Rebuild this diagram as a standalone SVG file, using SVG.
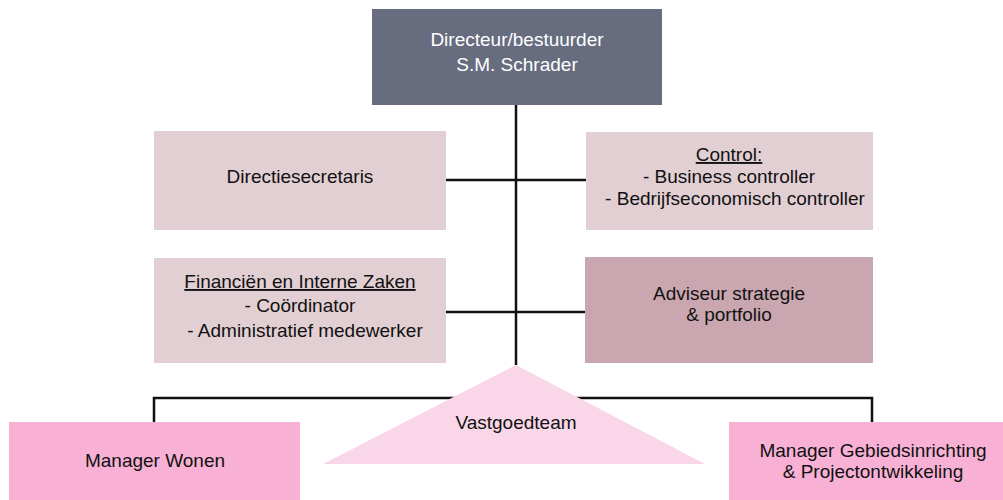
<svg xmlns="http://www.w3.org/2000/svg" width="1003" height="500" viewBox="0 0 1003 500">
<style>
text{font-family:"Liberation Sans",Arial,sans-serif;font-size:19px;fill:#111;text-anchor:middle}
.w{fill:#fff}
.u{text-decoration:underline}
.c{fill:none;stroke:#111;stroke-width:2.5}
.lt{fill:#e2cfd3}
.dk{fill:#caa7b0}
.pk{fill:#f8b1d5}
</style>
<rect width="1003" height="500" fill="#fff"/>
<g id="connectors">
<path class="c" d="M516 105V365"/>
<path class="c" d="M446 180H586"/>
<path class="c" d="M446 312H585"/>
<path class="c" d="M154 422V398H872V422"/>
</g>
<g id="directeur">
<rect x="372" y="9" width="290" height="96" fill="#676c7f"/>
<text class="w" x="517" y="46">Directeur/bestuurder</text>
<text class="w" x="517" y="71">S.M. Schrader</text>
</g>
<g id="directiesecretaris">
<rect class="lt" x="154" y="131" width="292" height="99"/>
<text x="300" y="183">Directiesecretaris</text>
</g>
<g id="control">
<rect class="lt" x="586" y="132" width="287" height="98"/>
<text x="729" y="161" class="u">Control:</text>
<text x="729" y="183">- Business controller</text>
<text x="735" y="205" font-size="18.5">- Bedrijfseconomisch controller</text>
</g>
<g id="financien">
<rect class="lt" x="154" y="258" width="292" height="105"/>
<text x="300" y="288" class="u">Financiën en Interne Zaken</text>
<text x="300" y="312">- Coördinator</text>
<text x="305" y="337">- Administratief medewerker</text>
</g>
<g id="adviseur">
<rect class="dk" x="585" y="257" width="288" height="106"/>
<text x="729" y="300">Adviseur strategie</text>
<text x="729" y="321">&amp; portfolio</text>
</g>
<g id="vastgoedteam">
<polygon points="516,365 705,464 323,464" fill="#fad7e8"/>
<text x="516" y="429">Vastgoedteam</text>
</g>
<g id="manager-wonen">
<rect class="pk" x="9" y="422" width="291" height="78"/>
<text x="155" y="467">Manager Wonen</text>
</g>
<g id="manager-gebied">
<rect class="pk" x="729" y="422" width="274" height="78"/>
<text x="873" y="457">Manager Gebiedsinrichting</text>
<text x="873" y="478">&amp; Projectontwikkeling</text>
</g>
</svg>
